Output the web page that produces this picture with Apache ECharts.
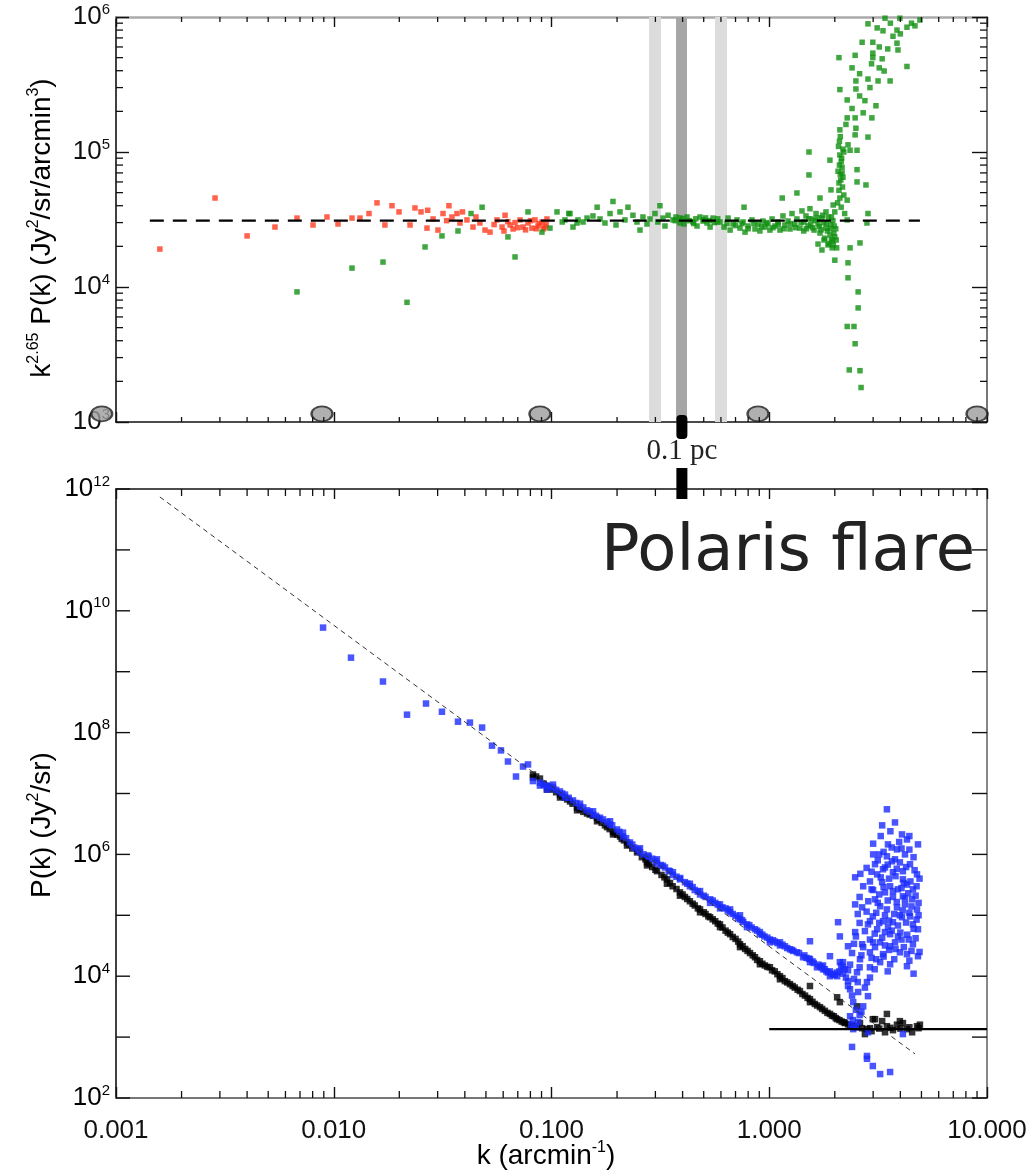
<!DOCTYPE html>
<html><head><meta charset="utf-8">
<script src="https://cdn.jsdelivr.net/npm/echarts@6/dist/echarts.min.js"></script>
<style>html,body{margin:0;padding:0;background:#fff}#c{width:1035px;height:1172px}</style>
</head><body><div id="c"></div>
<script>
// ---------------- DATA ----------------
// top panel: k^2.65 P(k) for the two maps
const redPts = [
[0.00159,1.91e4],[0.00285,4.56e4],[0.0040,2.39e4],[0.00537,2.78e4],[0.00678,3.24e4],[0.00803,2.88e4],[0.00931,3.3e4],[0.01046,2.93e4],[0.01213,3.24e4],[0.0132,3.24e4],[0.01452,3.5e4],[0.0158,4.2e4],[0.01718,2.88e4],[0.01851,4.0e4],[0.01994,3.6e4],[0.0224,2.88e4],[0.0236,3.85e4],[0.02516,3.6e4],[0.0268,2.73e4],[0.02858,3.19e4],[0.0301,2.64e4],[0.03175,3.5e4],[0.0338,4.0e4],[0.0349,3.3e4],[0.0368,3.5e4],[0.0380,2.98e4],[0.0409,3.14e4],[0.0436,2.78e4],[0.0469,2.98e4],[0.0495,2.64e4],[0.0522,2.55e4],[0.0562,3.14e4],[0.0593,2.78e4],[0.0612,3.4e4],[0.0645,2.88e4],[0.0666,2.69e4],[0.0717,3.14e4],[0.0740,2.78e4],[0.0780,2.98e4],[0.0813,2.73e4],[0.0840,3.14e4],[0.0867,2.83e4],[0.0904,3.03e4],[0.0933,2.78e4],[0.0953,3.19e4],
[0.0545,2.9e4],[0.0605,2.6e4],[0.0680,3.0e4],[0.0760,2.65e4],[0.0800,3.1e4],[0.0850,2.7e4],[0.0880,2.95e4],[0.0920,2.7e4],[0.0945,2.9e4],[0.0700,2.75e4],[0.0630,3.05e4],[0.0450,3.3e4],[0.0390,3.6e4],[0.0330,3.1e4],[0.0270,3.7e4]
];
const greenPts = [
[0.00678,9.2e3],[0.01213,1.38e4],[0.01683,1.53e4],[0.0217,7.7e3],[0.02626,1.98e4],[0.0314,2.39e4],[0.0372,2.6e4],[0.0427,3.5e4],[0.0480,3.9e4],[0.0631,2.35e4],[0.0680,1.67e4],[0.0780,3.6e4],[0.0904,2.55e4],[0.0984,2.73e4],[0.112,3.03e4],[0.120,3.5e4],[0.1255,2.78e4],[0.1323,3.14e4],
[0.106,3.6e4],[0.1216,3.5e4],[0.131,2.98e4],[0.1456,3.24e4],[0.155,3.36e4],[0.162,3.9e4],[0.176,2.98e4],[0.1857,3.5e4],[0.1916,4.3e4],[0.2064,3.6e4],[0.2245,3.9e4],[0.2366,3.4e4],[0.2549,2.64e4],[0.263,3.3e4],[0.2834,3.19e4],[0.2987,3.5e4],[0.3148,4.0e4],[0.325,3.24e4],[0.343,3.4e4],[0.3614,3.14e4],[0.389,2.98e4],[0.419,3.3e4],[0.4463,3.03e4],[0.4808,3.3e4],[0.5178,2.98e4],[0.5517,3.24e4],
[0.1153,3.14e4],[0.1396,3.03e4],[0.1671,3.19e4],[0.1978,2.88e4],[0.2175,3.14e4],[0.247,3.03e4],[0.2745,2.93e4],[0.308,3.03e4],[0.332,2.83e4],[0.373,3.3e4],[0.406,2.93e4],[0.466,2.83e4],[0.4964,3.08e4],[0.535,2.78e4],[0.576,3.03e4],
[0.37,3.1e4],[0.40,3.2e4],[0.43,3.1e4],[0.46,3.2e4],[0.50,3.15e4],[0.53,3.1e4],[0.56,3.0e4],[0.39,3.25e4],[0.45,2.95e4],[0.51,3.25e4],[0.58,3.2e4],
[0.594,3.03e4],[0.62,2.78e4],[0.647,3.24e4],[0.661,2.64e4],[0.682,2.93e4],[0.711,3.14e4],[0.734,2.73e4],[0.758,3.03e4],[0.774,2.55e4],[0.799,2.83e4],[0.833,3.14e4],[0.860,2.69e4],[0.888,2.93e4],[0.906,2.6e4],[0.936,3.08e4],[0.955,2.78e4],[0.986,2.93e4],[1.007,2.64e4],[1.03,3.19e4],[1.062,2.83e4],[1.096,3.03e4],[1.12,2.64e4],[1.156,3.36e4],[1.18,2.88e4],[1.22,3.08e4],[1.245,2.69e4],[1.272,3.5e4],[1.31,2.93e4],[1.34,3.19e4],[1.383,2.73e4],[1.413,3.66e4],[1.444,3.03e4],[1.475,3.36e4],[1.507,2.83e4],[1.538,3.8e4],[1.572,3.19e4],[1.606,2.64e4],[1.64,3.5e4],[1.675,2.93e4],[1.71,2.51e4],[1.746,3.24e4],[1.784,2.23e4],[1.822,2.73e4],[1.86,2.05e4],[1.90,2.43e4],[1.945,1.95e4],[1.987,2.83e4],[2.03,2.23e4],[1.822,3.6e4],[1.966,4.05e4],[1.675,2.08e4],[1.746,1.88e4],
[0.64,2.95e4],[0.70,2.85e4],[0.75,2.95e4],[0.80,2.7e4],[0.85,2.95e4],[0.92,2.8e4],[0.97,3.0e4],[1.04,2.75e4],[1.10,2.9e4],[1.17,2.7e4],[1.25,2.95e4],[1.32,2.75e4],[1.40,3.0e4],[1.48,2.7e4],[1.55,2.9e4],[1.62,3.1e4],[1.70,2.8e4],[1.78,3.0e4],[1.85,2.6e4],[1.92,2.9e4],[1.98,2.5e4],[2.02,2.7e4],[1.95,2.2e4],[1.88,2.1e4],[1.80,2.3e4],[2.04,1.95e4],
[1.44,2.6e4],[1.52,3.2e4],[1.58,2.75e4],[1.66,3.25e4],[1.73,2.65e4],[1.76,3.4e4],[1.83,2.95e4],[1.87,3.3e4],[1.91,2.7e4],[1.96,3.1e4],[2.0,2.35e4],[1.93,2.25e4],[1.97,2.05e4],
[0.766,3.9e4],[1.147,4.56e4],[1.34,4.97e4],[1.522,1.0e5],[1.522,6.76e4],[1.71,4.56e4],[1.921,5.24e4],[2.11,4.56e4],[2.28,4.4e4],
[2.00,1.58e4],[2.30,1.51e4],[2.35,1.95e4],[2.61,2.12e4],[2.30,1.17e4],[2.56,9.2e3],[2.56,7.0e3],[2.28,5.1e3],[2.45,5.1e3],[2.48,3.8e3],[2.33,2.43e3],[2.61,2.4e3],[2.64,1.8e3],[2.28,3.14e4],[2.81,2.98e4],[2.84,3.5e4],
[2.11,9.5e4],[2.16,7.7e4],[2.18,6.5e4],[2.09,5.9e4],[2.35,1.03e5],[2.53,1.03e5],[2.53,7.4e4],[2.53,6.0e4],[2.78,5.7e4],[1.90,8.7e4],[2.30,1.13e5],[2.11,1.46e5],[2.50,1.5e5],[2.48,1.34e5],[2.84,1.29e5],[2.96,1.79e5],[2.70,1.95e5],[2.48,1.79e5],[2.28,1.79e5],[2.28,2.43e5],[3.09,2.2e5],[2.11,2.9e5],[2.50,2.93e5],[2.50,3.36e5],[2.84,3.47e5],[3.16,3.36e5],[3.59,3.36e5],[3.37,3.98e5],[4.29,4.3e5],[2.09,5.0e5],[2.48,5.2e5],[2.99,5.4e5],[2.99,5.0e5],[3.30,4.9e5],[2.67,6.5e5],[2.99,6.5e5],[3.86,6.4e5],[3.90,5.7e5],[2.84,8.9e5],[3.13,8.3e5],[3.33,7.9e5],[3.86,8.0e5],[4.29,8.4e5],[4.67,8.6e5],[4.92,9.5e5],[3.40,9.8e5],[3.98,9.8e5],
[2.10,1.2e5],[2.14,8.5e4],[2.12,6.8e4],[2.20,1.0e5],[2.07,7.2e4],
[2.08,1.1e5],[2.12,1.3e5],[2.15,9.0e4],[2.18,1.05e5],[2.1,8.0e4],[2.13,6.2e4],[2.17,5.5e4],[2.2,4.8e4],[2.06,4.2e4],[2.14,3.9e4],[2.22,3.5e4],[2.0,3.6e4],[1.93,3.3e4],[2.09,5.2e4],[2.16,7.0e4],[2.25,1.6e5],[2.4,2.1e5],[2.6,2.6e5],[2.75,2.4e5],[2.9,3.0e5],[3.2,4.2e5],[3.5,5.8e5],[3.7,7.2e5],[4.0,7.5e5],[4.5,9.0e5],[2.95,4.5e5],[2.6,3.8e5],[2.4,4.2e5],[3.2,6.0e5],[3.6,9.0e5]
];
// bottom panel: P(k)
const bluePts = [
[0.00893,5.3e9],[0.0120,1.7e9],[0.01683,6.9e8],[0.0217,1.97e8],[0.02653,3.0e8],[0.0314,2.2e8],[0.0372,1.51e8],[0.0422,1.46e8],[0.0480,1.21e8],[0.0533,6.1e7],[0.0586,5.1e7],[0.0631,3.35e7],[0.0687,1.9e7],[0.0740,2.77e7],[0.0780,3.0e7],[0.0822,1.6e7],
[0.0885,1.51e7],[0.0885,1.35e7],[0.0953,1.35e7],[0.0953,1.16e7],[0.1016,1.25e7],[0.1016,1.4e7],[0.1094,1.08e7],[0.1153,9.6e6],[0.1153,8.6e6],[0.1255,7.7e6],[0.1352,6.1e6],[0.1352,6.8e6],[0.1456,5.3e6],[0.1552,4.5e6],[0.1552,5.1e6],[0.1671,4.0e6],[0.1725,3.75e6],[0.1857,3.1e6],[0.1857,3.5e6],[0.2,2.57e6],[0.213,1.97e6],[0.213,2.28e6],[0.2293,1.57e6],[0.2549,1.08e6],[0.2549,1.26e6],[0.2774,9.6e5],[0.305,8.3e5],[0.305,7.1e5],[0.332,6.1e5],[0.361,5.1e5],[0.361,4.6e5],[0.389,3.9e5],[0.432,3.0e5],[0.432,3.3e5],[0.481,2.2e5],[0.481,2.5e5],[0.535,1.83e5],[0.535,1.6e5],[0.594,1.51e5],[0.594,1.3e5],[0.661,1.12e5],[0.661,1.25e5],[0.734,8.6e4],[0.734,1.0e5],[0.79,7.1e4],[0.79,6.4e4],[0.86,5.9e4],[0.906,4.9e4],[0.906,5.3e4],[1.007,4.0e4],[1.007,3.6e4],[1.12,3.2e4],[1.12,3.6e4],[1.245,2.77e4],[1.34,2.47e4],[1.43,2.05e4],[1.538,1.7e4],[1.538,1.9e4],[1.656,1.4e4],[1.766,1.3e4],[1.766,1.5e4],[1.90,1.0e4],[1.90,1.2e4],[2.05,1.0e4],[2.05,1.15e4],[2.18,1.7e4],[2.18,1.4e4],[2.18,1.1e4],[2.30,8.3e3],[2.30,6.9e3],
[0.24,1.3e6],[0.265,1.0e6],[0.29,8.5e5],[0.318,6.7e5],[0.345,5.4e5],[0.375,4.3e5],[0.41,3.5e5],[0.455,2.6e5],[0.51,2.0e5],[0.565,1.6e5],[0.63,1.3e5],[0.70,9.8e4],[0.76,7.8e4],[0.83,6.3e4],[0.95,4.5e4],[1.06,3.7e4],[1.18,3.1e4],[1.29,2.6e4],[1.48,2.0e4],[1.60,1.65e4],[1.71,1.45e4],[1.83,1.2e4],[1.97,1.05e4],
[0.092,1.4e7],[0.098,1.3e7],[0.105,1.15e7],[0.112,1.0e7],[0.12,8.5e6],[0.13,7.0e6],[0.14,5.9e6],[0.15,5.0e6],[0.16,4.3e6],[0.18,3.4e6],[0.19,3.0e6],[0.205,2.35e6],[0.22,1.85e6],[0.235,1.45e6],[0.25,1.2e6],[0.28,9.2e5],[0.30,7.8e5],[0.325,6.5e5],[0.35,5.3e5],[0.39,4.1e5],[0.42,3.3e5],[0.445,2.9e5],[0.47,2.45e5],[0.50,2.1e5],[0.55,1.75e5],[0.58,1.5e5],[0.61,1.35e5],[0.645,1.2e5],[0.68,1.05e5],[0.72,9.0e4],[0.75,8.3e4],[0.81,6.9e4],[0.88,5.6e4],[0.93,4.8e4],[0.98,4.3e4],[1.04,3.9e4],[1.09,3.5e4],[1.15,3.3e4],[1.21,2.9e4],[1.27,2.7e4],[1.37,2.4e4],[1.45,2.2e4],[1.52,1.95e4],[1.58,1.75e4],[1.68,1.55e4],[1.74,1.4e4],[1.80,1.3e4],[1.86,1.15e4],[1.94,1.1e4],[2.0,1.05e4],[2.1,1.2e4],[2.14,1.5e4],[2.22,1.3e4],[2.25,9.5e3],
[3.47,5.5e6],[3.78,3.35e6],[4.07,2.13e6],[4.29,1.76e6],[4.82,1.46e6],[3.51,1.46e6],[3.86,1.21e6],[3.47,9.3e5],[3.66,7.7e5],[3.98,7.4e5],[4.20,1.0e6],[3.06,6.9e5],[3.40,6.1e5],[3.70,5.1e5],[4.11,5.3e5],[2.48,4.2e5],[3.13,4.7e5],[4.77,4.7e5],[3.30,3.5e5],[3.59,3.0e5],[3.90,2.67e5],[4.29,3.2e5],[3.40,2.38e5],[3.06,1.83e5],[3.70,2.0e5],[4.11,2.05e5],[4.53,1.83e5],[3.23,1.41e5],[3.47,1.25e5],[3.86,1.35e5],[4.77,1.25e5],[2.48,1.51e5],[2.67,1.35e5],[2.99,9.6e4],[3.33,8.0e4],[3.70,7.7e4],[4.07,9.3e4],[4.43,9.6e4],[2.07,7.7e4],[3.13,5.9e4],[3.40,5.3e4],[3.90,4.5e4],[4.82,5.9e4],[2.48,5.3e4],[2.11,4.5e4],[2.90,4.0e4],[3.23,3.6e4],[3.59,3.1e4],[4.57,3.35e4],[2.30,3.1e4],[1.538,3.75e4],[2.90,2.47e4],[3.33,2.3e4],[3.98,2.47e4],[4.29,2.3e4],[4.82,2.13e4],[1.90,2.13e4],[2.11,1.7e4],[3.23,1.7e4],[3.59,1.57e4],[4.29,1.46e4],[2.90,1.4e4],[2.53,1.16e4],[2.81,8.0e3],[2.35,6.1e3],[2.56,5.5e3],[2.84,4.7e3],[2.43,3.75e3],[2.70,3.2e3],[2.35,2.2e3],[2.56,1.76e3],[2.43,1.35e3],[2.84,1.2e3],[4.11,1.12e3],[2.40,6.9e2],[2.81,4.9e2],[2.81,4.4e2],[2.99,3.35e2],[3.23,2.47e2],[3.59,2.67e2],
[3.20,1.0e6],[3.78,8.3e5],[4.43,6.9e5],[2.90,3.6e5],[4.11,3.9e5],[4.57,2.67e5],[3.20,2.2e5],[4.20,1.51e5],[2.84,7.1e4],[3.51,6.4e4],[4.37,4.0e4],[3.06,3.0e4],[3.78,3.6e4],[2.61,1.9e4],[4.57,7.1e4],[3.33,5.7e5],[2.95,2.67e5],[3.98,1.0e5],[3.59,4.9e4],[2.67,3.35e4],
[3.0,1.5e6],[3.25,2.0e6],[3.6,2.4e6],[3.95,1.6e6],[4.4,1.2e6],[4.6,9.0e5],[3.35,1.1e6],[3.65,1.3e6],[4.05,1.25e6],[3.15,8.0e5],[3.5,6.8e5],[3.85,5.8e5],[4.25,6.2e5],[4.65,5.5e5],[2.95,5.2e5],[3.25,4.2e5],[3.55,4.0e5],[3.8,4.4e5],[4.15,3.4e5],[4.45,3.6e5],[4.75,3.0e5],[2.7,3.0e5],[3.0,2.6e5],[3.35,2.9e5],[3.7,2.5e5],[4.05,2.8e5],[4.35,2.3e5],[4.7,2.1e5],[2.6,2.0e5],[2.85,1.7e5],[3.15,1.6e5],[3.5,1.75e5],[3.85,1.65e5],[4.2,1.9e5],[4.5,1.4e5],[4.85,1.6e5],[2.55,1.05e5],[2.8,1.15e5],[3.1,1.1e5],[3.4,1.0e5],[3.75,1.05e5],[4.1,1.2e5],[4.4,1.1e5],[4.75,8.5e4],[2.6,7.5e4],[2.9,8.0e4],[3.2,7.5e4],[3.55,8.2e4],[3.9,6.8e4],[4.25,7.6e4],[4.6,6.0e4],[2.5,4.5e4],[2.75,5.5e4],[3.05,5.0e4],[3.3,4.3e4],[3.65,5.6e4],[4.0,5.2e4],[4.3,4.8e4],[4.7,4.2e4],[2.45,3.4e4],[2.7,3.0e4],[3.0,3.6e4],[3.4,3.2e4],[3.8,2.8e4],[4.15,3.0e4],[4.5,2.6e4],[2.4,2.4e4],[2.65,2.2e4],[2.95,2.0e4],[3.35,2.1e4],[3.75,1.9e4],[4.4,1.8e4],[2.35,1.55e4],[2.6,1.4e4],[3.05,1.3e4],[3.5,1.2e4],[4.6,1.1e4],[2.3,1.25e4],[2.45,9.0e3],[2.55,8.0e3],[2.4,4.8e3],[2.5,2.8e3],[2.6,2.3e3],[2.42,1.9e3],[2.38,1.6e3],[2.5,1.45e3],[2.65,2.6e3],[2.75,6.5e3],[2.9,9.5e3],[3.1,1.9e4],[3.55,2.7e4],[4.05,4.0e4],[4.9,2.5e4],[4.85,1.0e5],[4.9,4.0e5],[4.4,2.0e6],[3.3,3.0e6],[3.0,1.0e6],[2.8,6.0e5],[2.62,4.8e5]
];
const blackPts = [
[0.0822,2.05e7],[0.0822,1.83e7],[0.0885,1.76e7],[0.0953,1.30e7],[0.0953,1.16e7],[0.1016,1.16e7],[0.1094,9.6e6],[0.1094,8.6e6],[0.1153,8.6e6],[0.1216,7.4e6],[0.131,5.9e6],[0.131,5.3e6],[0.1456,4.7e6],[0.1618,4.0e6],[0.1618,3.5e6],[0.176,3.0e6],[0.1916,2.38e6],[0.1916,2.13e6],[0.2064,1.97e6],[0.2222,1.57e6],[0.2222,1.4e6],[0.247,1.08e6],[0.2745,7.4e5],[0.2745,6.6e5],[0.305,5.3e5],[0.339,3.9e5],[0.339,3.3e5],[0.389,2.38e5],[0.389,2.1e5],[0.432,1.7e5],[0.481,1.25e5],[0.481,1.12e5],[0.535,9.3e4],[0.594,7.1e4],[0.594,6.4e4],[0.661,4.9e4],[0.734,3.35e4],[0.734,3.0e4],[0.816,2.4e4],[0.906,1.76e4],[0.906,1.57e4],[1.007,1.4e4],[1.12,1.0e4],[1.12,8.9e3],[1.245,7.4e3],[1.383,5.7e3],[1.538,4.2e3],[1.538,3.75e3],[1.71,3.1e3],[1.90,2.4e3],[2.05,1.97e3],[2.23,1.7e3],[2.35,1.57e3],[2.53,1.46e3],[2.81,1.35e3],[3.13,1.46e3],[3.47,1.51e3],[3.86,1.6e3],[4.29,1.35e3],[4.77,1.51e3],
[2.61,1.7e3],[2.95,1.25e3],[3.30,1.83e3],[3.70,1.3e3],[4.11,1.7e3],[4.53,1.2e3],[4.92,1.6e3],[2.75,1.12e3],[3.40,1.2e3],[3.98,1.83e3],[3.06,1.97e3],
[1.538,6.9e3],[2.05,4.5e3],[2.11,3.75e3],[2.53,3.2e3],[2.99,1.97e3],[3.47,2.4e3],
[0.14,5.0e6],[0.155,4.3e6],[0.17,3.3e6],[0.185,2.6e6],[0.2,2.1e6],[0.215,1.7e6],[0.235,1.25e6],[0.26,9.0e5],[0.29,6.2e5],[0.32,4.6e5],[0.36,3.0e5],[0.41,2.0e5],[0.455,1.45e5],[0.51,1.05e5],[0.565,8.0e4],[0.63,5.6e4],[0.70,4.1e4],[0.775,2.8e4],[0.86,2.05e4],[0.955,1.5e4],[1.06,1.2e4],[1.18,8.3e3],[1.31,6.5e3],[1.46,4.8e3],[1.62,3.5e3],[1.80,2.7e3],[1.98,2.2e3],[2.15,1.8e3],[2.45,1.5e3],[2.67,1.4e3],[2.9,1.4e3],[3.2,1.38e3],[3.6,1.42e3],[4.0,1.38e3],[4.4,1.45e3],[4.85,1.4e3],
[0.085,1.9e7],[0.092,1.45e7],[0.098,1.25e7],[0.105,1.05e7],[0.112,9.0e6],[0.118,8.0e6],[0.125,6.8e6],[0.135,5.5e6],[0.15,4.5e6],[0.165,3.7e6],[0.18,2.8e6],[0.195,2.25e6],[0.21,1.8e6],[0.228,1.45e6],[0.25,1.15e6],[0.27,8.3e5],[0.28,7.0e5],[0.30,5.6e5],[0.33,4.2e5],[0.35,3.4e5],[0.375,2.7e5],[0.40,2.2e5],[0.42,1.85e5],[0.445,1.55e5],[0.47,1.3e5],[0.50,1.12e5],[0.525,9.6e4],[0.55,8.6e4],[0.58,7.3e4],[0.61,6.3e4],[0.645,5.2e4],[0.68,4.4e4],[0.72,3.7e4],[0.755,3.1e4],[0.795,2.6e4],[0.84,2.2e4],[0.88,1.85e4],[0.93,1.6e4],[0.98,1.42e4],[1.03,1.25e4],[1.09,1.08e4],[1.15,9.3e3],[1.21,7.9e3],[1.28,6.9e3],[1.35,6.0e3],[1.42,5.1e3],[1.50,4.4e3],[1.58,3.8e3],[1.66,3.3e3],[1.75,2.9e3],[1.85,2.5e3],[1.94,2.25e3],[2.02,2.05e3],[2.1,1.9e3],[2.2,1.75e3],[2.3,1.62e3],[2.4,1.55e3]
];
const topFitLine = [[0.00143, 3.1e4], [4.92, 3.1e4]];
const bottomFitLine = [[0.00159, 7.4e11], [4.67, 5.3e2]];
const noiseLevelLine = [[1.0, 1.35e3], [10, 1.35e3]];
const circleMarks = [[0.00086, 1150], [0.00883, 1150], [0.0885, 1150], [0.888, 1150], [9.0, 1150]];
const lightBands = [[0.2805, 0.3184], [0.5636, 0.6397]];
const darkBand = [0.3732, 0.419];
const scaleMarkK = [0.397];
const scaleMarkLabel = '0.1 pc';
const tickMantissas = [2, 3, 4, 5, 6, 7, 8, 9];
const xDecades = [0.001, 0.01, 0.1, 1];
const yTopDecades = [1e3, 1e4, 1e5];
const yBottomDecades = [1e2,1e3,1e4,1e5,1e6,1e7,1e8,1e9,1e10,1e11,1e12];
const X_MIN = 0.001, X_MAX = 10;

// ---------------- BUILD ----------------
const xMinorTicks = [];
xDecades.forEach(d => tickMantissas.forEach(m => xMinorTicks.push([d * m, 1e4])));
const yTopMinorTicks = [];
yTopDecades.forEach(d => tickMantissas.forEach(m => yTopMinorTicks.push([1, d * m])));

const FONT = '"Liberation Sans", Arial, sans-serif';
const supRich = {
  b: {fontSize: 26, fontFamily: FONT, color: '#111', verticalAlign: 'middle', lineHeight: 30},
  s: {fontSize: 15, fontFamily: FONT, color: '#111', verticalAlign: 'top', lineHeight: 15}
};
const titleRich = {
  a: {fontSize: 28, fontFamily: FONT, color: '#111', verticalAlign: 'middle', lineHeight: 32},
  s: {fontSize: 16, fontFamily: FONT, color: '#111', verticalAlign: 'top', lineHeight: 16}
};
function expLabel(v) { const e = Math.round(Math.log10(v)); return '{b|10}{s|' + e + '}'; }

function xMinorRender(len) {
  return function (params, api) {
    const cs = params.coordSys;
    const x = api.coord([api.value(0), api.value(1)])[0];
    const st = {stroke: '#111', lineWidth: 1.3};
    return {type: 'group', children: [
      {type: 'line', shape: {x1: x, y1: cs.y + cs.height, x2: x, y2: cs.y + cs.height - len}, style: st},
      {type: 'line', shape: {x1: x, y1: cs.y, x2: x, y2: cs.y + len}, style: st}
    ]};
  };
}
function yMinorRender(len) {
  return function (params, api) {
    const cs = params.coordSys;
    const y = api.coord([api.value(0), api.value(1)])[1];
    const st = {stroke: '#111', lineWidth: 1.3};
    return {type: 'group', children: [
      {type: 'line', shape: {x1: cs.x, y1: y, x2: cs.x + len, y2: y}, style: st},
      {type: 'line', shape: {x1: cs.x + cs.width, y1: y, x2: cs.x + cs.width - len, y2: y}, style: st}
    ]};
  };
}
function yBottomRender(params, api) {
  const cs = params.coordSys;
  const v = api.value(1);
  const y = api.coord([1, v])[1];
  const e = Math.round(Math.log10(v));
  const st = {stroke: '#111', lineWidth: 1.4};
  const ch = [
    {type: 'line', shape: {x1: cs.x, y1: y, x2: cs.x + 14, y2: y}, style: st},
    {type: 'line', shape: {x1: cs.x + cs.width, y1: y, x2: cs.x + cs.width - 15, y2: y}, style: st}
  ];
  if (e % 2 === 0) {
    ch.push({type: 'text', style: {text: expLabel(v), rich: supRich, x: cs.x - 6, y: y, align: 'right', verticalAlign: 'middle'}});
  }
  return {type: 'group', children: ch};
}
function markTopRender(params, api) {
  const cs = params.coordSys;
  const x = api.coord([api.value(0), 1e4])[0];
  const yb = cs.y + cs.height;
  return {type: 'group', children: [
    {type: 'rect', shape: {x: x - 5.5, y: yb - 7, width: 11, height: 24, r: 4}, style: {fill: '#000'}},
    {type: 'text', style: {text: scaleMarkLabel, x: x, y: yb + 29, align: 'center', verticalAlign: 'middle',
      font: '29px "Liberation Serif", "DejaVu Serif", serif', fill: '#222'}}
  ]};
}
function markBottomRender(params, api) {
  const cs = params.coordSys;
  const x = api.coord([api.value(0), 1e6])[0];
  return {type: 'rect', shape: {x: x - 5.5, y: cs.y - 21, width: 11, height: 31}, style: {fill: '#000'}};
}

const baseX = (gi, pos, show, lineColor, lineW, tickLen) => ({
  type: 'log', gridIndex: gi, position: pos, min: X_MIN, max: X_MAX,
  axisLine: {show: true, onZero: false, lineStyle: {color: lineColor, width: lineW}},
  axisTick: {show: true, inside: true, length: tickLen, lineStyle: {color: '#111', width: 1.4}},
  splitLine: {show: false}, minorTick: {show: false},
  axisLabel: {show: show, margin: 20, fontSize: 26, fontFamily: FONT, color: '#111',
    formatter: v => Number(v).toFixed(3)}
});

const option = {
  animation: false,
  backgroundColor: '#fff',
  grid: [
    {left: 116, top: 17, width: 871, height: 405},
    {left: 116, top: 489, width: 871, height: 609}
  ],
  xAxis: [
    baseX(0, 'bottom', false, '#111', 1.6, 10),
    baseX(0, 'top', false, '#aaa', 2.5, 10),
    baseX(1, 'bottom', true, '#777', 2.2, 11),
    baseX(1, 'top', false, '#111', 1.6, 10)
  ],
  yAxis: [
    {type: 'log', gridIndex: 0, position: 'left', min: 1e3, max: 1e6,
      axisLine: {show: true, onZero: false, lineStyle: {color: '#111', width: 1.6}},
      axisTick: {show: true, inside: true, length: 13, lineStyle: {color: '#111', width: 1.4}},
      splitLine: {show: false},
      axisLabel: {show: true, margin: 6, formatter: expLabel, rich: supRich}},
    {type: 'log', gridIndex: 0, position: 'right', min: 1e3, max: 1e6,
      axisLine: {show: true, onZero: false, lineStyle: {color: '#777', width: 2}},
      axisTick: {show: true, inside: true, length: 15, lineStyle: {color: '#111', width: 1.4}},
      splitLine: {show: false}, axisLabel: {show: false}},
    {type: 'log', gridIndex: 1, position: 'left', min: 1e2, max: 1e12,
      axisLine: {show: true, onZero: false, lineStyle: {color: '#111', width: 1.6}},
      axisTick: {show: false}, splitLine: {show: false}, axisLabel: {show: false}},
    {type: 'log', gridIndex: 1, position: 'right', min: 1e2, max: 1e12,
      axisLine: {show: true, onZero: false, lineStyle: {color: '#888', width: 2}},
      axisTick: {show: false}, splitLine: {show: false}, axisLabel: {show: false}}
  ],
  series: [
    {type: 'line', xAxisIndex: 0, yAxisIndex: 0, data: topFitLine, symbol: 'none', z: 5,
      lineStyle: {color: '#000', width: 2.2, type: [14, 9]},
      markArea: {silent: true, z: 1, data: [
        [{xAxis: lightBands[0][0], itemStyle: {color: '#dcdcdc'}}, {xAxis: lightBands[0][1]}],
        [{xAxis: darkBand[0], itemStyle: {color: '#a6a6a6'}}, {xAxis: darkBand[1]}],
        [{xAxis: lightBands[1][0], itemStyle: {color: '#dcdcdc'}}, {xAxis: lightBands[1][1]}]
      ]}},
    {type: 'scatter', xAxisIndex: 0, yAxisIndex: 0, data: redPts, symbol: 'rect', symbolSize: 5.5, z: 3,
      itemStyle: {color: '#ff3b1f'}},
    {type: 'scatter', xAxisIndex: 0, yAxisIndex: 0, data: greenPts, symbol: 'rect', symbolSize: 5.5, z: 3,
      itemStyle: {color: '#109010'}},
    {type: 'scatter', xAxisIndex: 0, yAxisIndex: 0, data: circleMarks, symbol: 'circle', symbolSize: [21, 15],
      clip: false, z: 6, itemStyle: {color: '#9c9c9c', borderColor: '#222', borderWidth: 2}},
    {type: 'custom', xAxisIndex: 0, yAxisIndex: 0, data: xMinorTicks, renderItem: xMinorRender(5), silent: true, z: 8, clip: false},
    {type: 'custom', xAxisIndex: 0, yAxisIndex: 0, data: yTopMinorTicks, renderItem: yMinorRender(7), silent: true, z: 8, clip: false},
    {type: 'custom', xAxisIndex: 0, yAxisIndex: 0, data: scaleMarkK.map(k => [k, 1e4]), renderItem: markTopRender, silent: true, z: 9, clip: false},
    {type: 'scatter', xAxisIndex: 2, yAxisIndex: 2, data: blackPts, symbol: 'rect', symbolSize: 6.5, z: 3,
      itemStyle: {color: '#000'}},
    {type: 'scatter', xAxisIndex: 2, yAxisIndex: 2, data: bluePts, symbol: 'rect', symbolSize: 6.5, z: 4,
      itemStyle: {color: '#1b2cff'}},
    {type: 'line', xAxisIndex: 2, yAxisIndex: 2, data: bottomFitLine, symbol: 'none', z: 5,
      lineStyle: {color: '#333', width: 1, type: [5, 4]}},
    {type: 'line', xAxisIndex: 2, yAxisIndex: 2, data: noiseLevelLine, symbol: 'none', z: 6,
      lineStyle: {color: '#000', width: 2.2}},
    {type: 'custom', xAxisIndex: 2, yAxisIndex: 2, data: xMinorTicks, renderItem: xMinorRender(7), silent: true, z: 8, clip: false},
    {type: 'custom', xAxisIndex: 2, yAxisIndex: 2, data: yBottomDecades.map(v => [1, v]), renderItem: yBottomRender, silent: true, z: 8, clip: false},
    {type: 'custom', xAxisIndex: 2, yAxisIndex: 2, data: scaleMarkK.map(k => [k, 1e6]), renderItem: markBottomRender, silent: true, z: 9, clip: false}
  ],
  graphic: [
    {type: 'text', x: 975, y: 553, style: {text: 'Polaris flare', font: '64px "DejaVu Sans", sans-serif', fill: '#222', align: 'right', verticalAlign: 'middle'}},
    {type: 'text', x: 42, y: 228, rotation: Math.PI / 2, style: {
      text: '{a|k}{s|2.65}{a| P(k) (Jy}{s|2}{a|/sr/arcmin}{s|3}{a|)}', align: 'center', verticalAlign: 'middle', rich: titleRich}},
    {type: 'text', x: 42, y: 825, rotation: Math.PI / 2, style: {
      text: '{a|P(k) (Jy}{s|2}{a|/sr)}', align: 'center', verticalAlign: 'middle', rich: titleRich}},
    {type: 'text', x: 546, y: 1156, style: {
      text: '{a|k (arcmin}{s|-1}{a|)}', align: 'center', verticalAlign: 'middle', rich: titleRich}}
  ]
};
const chart = echarts.init(document.getElementById('c'), null, {renderer: 'canvas'});
chart.setOption(option);
</script>
</body></html>
